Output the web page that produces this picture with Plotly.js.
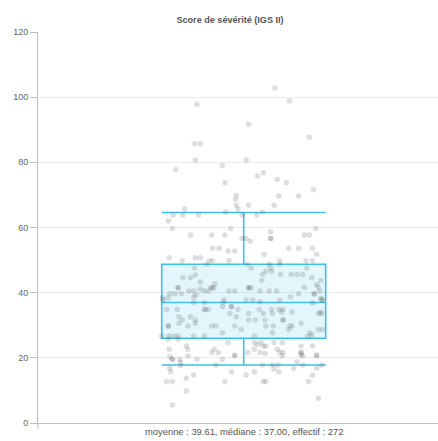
<!DOCTYPE html>
<html>
<head>
<meta charset="utf-8">
<script src="https://cdn.plot.ly/plotly-3.0.1.min.js"></script>
<style>html,body{margin:0;padding:0;background:#fff;}#chart{width:438px;height:441px;}</style>
</head>
<body>
<div id="chart"></div>
<script>
// Chart text
var chartTitle = "Score de sévérité (IGS II)";
var summaryLabel = "moyenne : 39.61, médiane : 37.00, effectif : 272";
var yTickValues = [0, 20, 40, 60, 80, 100, 120];

// Box statistics (as drawn)
var boxQ1 = [26];
var boxMedian = [37];
var boxQ3 = [48.7];
var boxLowerWhisker = [17.8];
var boxUpperWhisker = [64.6];

// Individual scores (jittered points): horizontal jitter and value
var pointJitter = [
  0.38,-0.57,0.56,0.06,0.80,-0.60,-0.53,-0.59,0.03,-0.26,
  -0.83,0.17,0.24,0.41,0.52,-0.23,0.85,0.67,0.43,-0.09,
  -0.10,-0.09,-0.07,0.06,0.37,-0.72,-0.86,-0.74,-0.55,-0.22,
  -0.02,0.16,0.23,-0.92,-0.87,-0.65,-0.39,-0.23,-0.16,-0.02,
  0.03,0.08,0.33,0.33,0.33,0.74,0.80,0.88,-0.38,-0.30,
  -0.19,-0.11,0.55,0.67,0.84,0.89,0.25,-0.91,-0.75,-0.59,
  -0.53,-0.42,-0.38,-0.18,-0.45,0.04,0.31,0.44,0.44,0.76,
  0.84,-0.60,0.09,0.33,0.77,-0.74,-0.65,-0.59,-0.53,-0.35,
  -0.39,-0.36,-0.80,-0.80,-0.90,-0.84,-0.76,-0.99,-0.92,-0.67,
  -0.61,-0.61,-0.58,-0.53,-0.48,-0.43,-0.18,-0.11,0.06,0.09,
  0.20,0.31,0.40,0.22,0.23,0.27,0.34,0.45,0.58,0.65,
  0.72,0.83,0.94,0.91,0.89,0.74,0.67,0.86,0.93,0.94,
  0.57,0.03,0.11,0.20,-0.24,-0.25,-0.61,-0.48,0.44,0.84,
  -0.48,-0.43,-0.15,-0.15,-0.26,-0.94,-0.81,-0.07,0.19,0.43,
  0.48,0.34,0.94,0.59,-0.98,0.96,-0.79,-0.65,-0.75,-0.79,
  -0.68,-0.92,-0.92,-0.59,-0.59,-0.39,-0.34,-0.26,-0.17,-0.09,
  -0.11,-0.03,0.06,0.06,0.14,0.24,0.26,0.27,0.35,0.36,
  0.35,0.48,0.48,0.46,0.56,0.59,0.55,0.70,0.81,0.83,
  0.91,0.96,0.91,0.95,-1.00,-0.91,-0.85,-0.80,-0.61,-0.48,
  0.13,0.78,-0.92,-0.80,-0.19,0.13,0.17,0.21,0.24,0.27,
  0.37,0.47,0.70,0.84,-0.70,-0.91,-0.68,-0.36,-0.31,-0.39,
  -0.11,0.05,0.13,0.20,0.26,0.41,0.44,0.48,0.70,0.70,
  0.89,-0.90,-0.87,-0.87,-0.78,-0.77,-0.77,-0.68,-0.57,-0.26,
  -0.11,-0.34,-0.15,-0.23,0.03,0.13,0.23,0.35,0.37,0.42,
  0.43,0.47,0.61,0.65,0.72,0.72,0.89,0.95,0.89,0.84,
  0.79,0.24,0.27,0.91,-0.94,-0.87,-0.70,-0.61,-0.90,-0.89,-0.70,-0.87,
  -0.47,0.86,0.95,0.70,0.06,-0.40
];
var pointScores = [
  102.8,97.8,98.8,91.7,87.7,85.7,85.7,80.7,80.7,79.0,
  77.8,75.8,76.8,74.7,73.7,73.7,71.7,69.7,69.7,69.9,
  68.7,66.8,65.7,66.8,66.8,65.7,63.8,63.8,63.8,64.7,
  63.8,63.8,64.7,62.0,59.7,57.7,57.7,57.7,59.7,56.6,
  56.6,55.8,58.7,56.6,56.6,57.7,57.7,59.7,53.6,53.6,
  52.8,52.8,53.6,53.6,53.6,51.8,51.7,50.7,49.8,50.7,
  50.7,49.8,49.8,49.8,48.7,48.7,48.7,49.8,48.7,49.8,
  49.8,47.6,47.6,47.6,47.6,44.6,44.6,45.4,43.3,42.7,
  41.5,41.5,41.5,41.5,39.7,39.7,39.7,38.4,38.4,40.5,
  40.5,38.6,39.3,41.1,40.5,40.5,40.5,40.5,41.5,41.5,
  40.5,40.5,40.5,43.7,45.6,46.6,46.6,45.6,45.6,45.6,
  45.6,44.6,43.7,41.7,42.5,41.7,39.7,39.7,40.5,38.2,
  38.7,37.8,37.8,37.2,37.8,37.0,37.0,37.0,37.7,36.8,
  34.8,34.8,35.7,35.7,35.7,34.8,34.8,34.8,34.8,34.8,
  34.8,34.8,34.1,34.1,37.7,37.7,32.6,32.6,31.6,30.6,
  29.8,29.8,29.8,31.6,30.6,29.8,29.8,27.7,33.6,32.6,
  29.8,28.7,33.6,31.6,31.6,33.6,31.6,29.8,33.6,29.8,
  27.7,31.6,31.6,34.1,29.8,29.8,28.7,30.6,27.7,27.0,
  28.7,28.7,33.6,33.6,26.7,26.7,26.7,26.7,26.7,26.7,
  26.7,26.7,25.7,25.7,24.6,24.6,24.1,24.6,23.6,23.6,
  24.6,24.6,23.6,23.6,23.6,22.6,22.6,22.6,21.6,21.6,
  20.9,21.6,22.6,21.6,21.3,22.6,21.6,21.6,21.6,20.9,
  20.9,20.3,19.6,19.6,19.6,18.6,17.6,20.6,19.6,19.6,
  20.6,17.8,15.7,12.7,14.7,15.7,17.8,17.8,16.6,17.8,
  15.7,20.6,16.8,18.8,17.8,20.6,20.6,17.8,16.8,14.7,
  12.7,12.7,12.7,7.6,12.7,12.7,13.7,14.7,16.8,15.7,9.8,5.5,
  34.8,39.6,38.0,21.6,41.5,41.5
];

var FONT = "Liberation Sans, Arial, sans-serif";

var boxTrace = {
  type: "box",
  x: [0],
  q1: boxQ1,
  median: boxMedian,
  q3: boxQ3,
  lowerfence: boxLowerWhisker,
  upperfence: boxUpperWhisker,
  width: 2,
  whiskerwidth: 1,
  boxpoints: false,
  line: {color: "#3ec1e8", width: 1.6},
  fillcolor: "rgba(62,193,232,0.15)",
  hoverinfo: "skip",
  showlegend: false
};

var pointsTrace = {
  type: "scatter",
  mode: "markers",
  x: pointJitter,
  y: pointScores,
  marker: {size: 5.5, color: "rgba(70,70,70,0.18)", line: {width: 0}},
  hoverinfo: "skip",
  showlegend: false
};

var layout = {
  width: 438,
  height: 441,
  margin: {l: 38, r: 0, t: 32, b: 18, pad: 0},
  paper_bgcolor: "#ffffff",
  plot_bgcolor: "#ffffff",
  font: {family: FONT, size: 9, color: "#666666"},
  title: {
    text: "<b>" + chartTitle + "</b>",
    font: {family: FONT, size: 9.1, color: "#555555"},
    xref: "container", x: 230 / 438, xanchor: "center",
    yref: "container", y: 1 - 20 / 441, yanchor: "middle"
  },
  xaxis: {
    range: [-2.509, 2.370],
    showticklabels: false,
    showgrid: false,
    zeroline: false,
    ticks: "",
    showline: true,
    linecolor: "#bdbdbd",
    linewidth: 1,
    fixedrange: true
  },
  yaxis: {
    range: [0, 120],
    tickvals: yTickValues,
    ticktext: yTickValues.map(String),
    ticks: "outside",
    ticklen: 7,
    tickcolor: "#bdbdbd",
    showline: true,
    linecolor: "#bdbdbd",
    linewidth: 1,
    showgrid: true,
    gridcolor: "#ebebeb",
    zeroline: false,
    tickfont: {family: FONT, size: 9, color: "#666666"},
    fixedrange: true
  },
  shapes: [{
    type: "line", xref: "paper", yref: "paper",
    x0: 0, x1: 0, y0: 0, y1: -6 / 391,
    line: {color: "#bdbdbd", width: 1}
  }],
  annotations: [{
    text: summaryLabel,
    xref: "x", x: 0,
    yref: "paper", y: 0,
    xanchor: "center", yanchor: "middle",
    yshift: -8,
    showarrow: false,
    font: {family: FONT, size: 9.4, color: "#555555"}
  }]
};

Plotly.newPlot("chart", [boxTrace, pointsTrace], layout, {displayModeBar: false, staticPlot: true});
</script>
</body>
</html>
